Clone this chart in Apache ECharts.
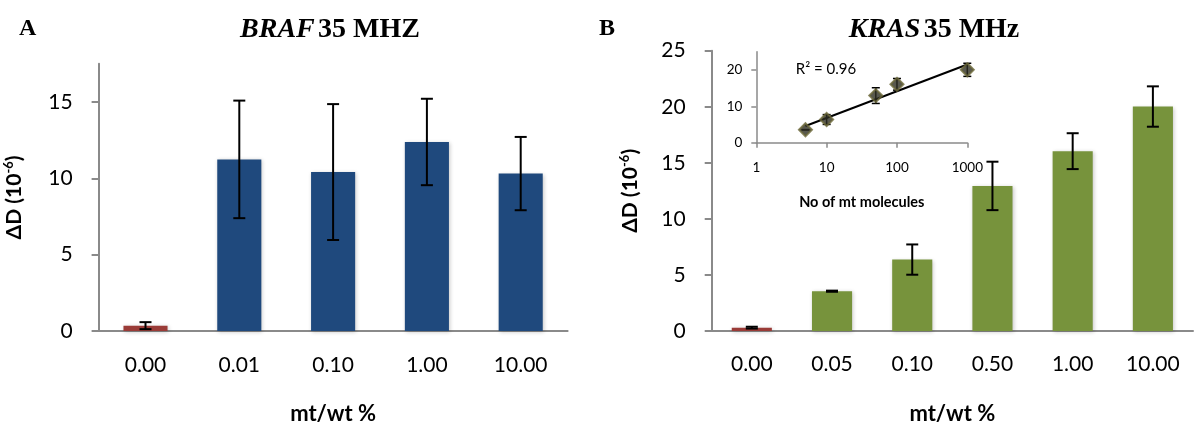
<!DOCTYPE html>
<html>
<head>
<meta charset="utf-8">
<script src="https://cdn.jsdelivr.net/npm/echarts@6/dist/echarts.min.js"></script>
<style>
  html, body { margin: 0; padding: 0; background: #fff; }
  #chart { width: 1194px; height: 430px; }
</style>
</head>
<body>
<div id="chart"></div>
<script>
// Panel A: BRAF, delta D (x10^-6) per mutant/wild-type ratio
const brafCategories = ['0.00', '0.01', '0.10', '1.00', '10.00'];
const brafValues = [0.35, 11.24, 10.41, 12.38, 10.31];
const brafErrors = [0.23, 3.85, 4.45, 2.83, 2.4];
const brafTicks = [0, 5, 10, 15];

// Panel B: KRAS, delta D (x10^-6) per mutant/wild-type ratio
const krasCategories = ['0.00', '0.05', '0.10', '0.50', '1.00', '10.00'];
const krasValues = [0.3, 3.55, 6.37, 12.94, 16.04, 20.02];
const krasErrors = [0.08, 0.05, 1.35, 2.16, 1.6, 1.8];
const krasTicks = [0, 5, 10, 15, 20, 25];

// Inset: number of mutant molecules for the non-zero KRAS dilutions
const molecules = [5, 10, 50, 100, 1000];
const insetValues = krasValues.slice(1);
const insetErrors = krasErrors.slice(1);
const insetYTicks = [0, 10, 20];
const insetXTicks = [1, 10, 100, 1000];

const CONTROL = '#9a3b37';
const BLUE = '#1f497d';
const GREEN = '#77933c';
const AXIS = '#8a8a8a';
const SANS = 'Lato';
const SERIF = 'Liberation Serif';

// Logarithmic least-squares fit y = a + b*ln(x), with its R^2
function logFit(xs, ys) {
  const lx = xs.map(Math.log);
  const n = xs.length;
  const mx = lx.reduce((s, v) => s + v, 0) / n;
  const my = ys.reduce((s, v) => s + v, 0) / n;
  let sxx = 0, sxy = 0;
  for (let i = 0; i < n; i++) { sxx += (lx[i] - mx) ** 2; sxy += (lx[i] - mx) * (ys[i] - my); }
  const b = sxy / sxx, a = my - b * mx;
  let ssr = 0, sst = 0;
  for (let i = 0; i < n; i++) { ssr += (ys[i] - (a + b * lx[i])) ** 2; sst += (ys[i] - my) ** 2; }
  return { a, b, r2: 1 - ssr / sst };
}
const fit = logFit(molecules, insetValues);
const trendX = [molecules[0], molecules[molecules.length - 1]];
const trendData = trendX.map(x => [x, fit.a + fit.b * Math.log(x)]);

// Error bars with caps, drawn from [x, y, err] triples
function errorBars(gridIdx, data, capHalf, width) {
  return {
    type: 'custom',
    xAxisIndex: gridIdx, yAxisIndex: gridIdx,
    z: 10,
    silent: true,
    data: data,
    renderItem(params, api) {
      const x = api.value(0), y = api.value(1), e = api.value(2);
      const hi = api.coord([x, y + e]);
      const lo = api.coord([x, y - e]);
      const style = { stroke: '#000', lineWidth: width };
      return {
        type: 'group',
        children: [
          { type: 'line', shape: { x1: hi[0], y1: hi[1], x2: lo[0], y2: lo[1] }, style },
          { type: 'line', shape: { x1: hi[0] - capHalf, y1: hi[1], x2: hi[0] + capHalf, y2: hi[1] }, style },
          { type: 'line', shape: { x1: lo[0] - capHalf, y1: lo[1], x2: lo[0] + capHalf, y2: lo[1] }, style }
        ]
      };
    }
  };
}

const yName = '{b|ΔD (10}{s|-6}{b|)}';
const yNameStyle = {
  rich: {
    b: { fontFamily: SANS, fontWeight: 'bold', fontSize: 21, color: '#000', lineHeight: 24 },
    s: { fontFamily: SANS, fontWeight: 'bold', fontSize: 13, color: '#000', verticalAlign: 'top', lineHeight: 24 }
  }
};

function categoryAxis(gridIdx, cats, margin) {
  return {
    type: 'category', gridIndex: gridIdx, data: cats,
    axisLine: { lineStyle: { color: AXIS, width: 2 } },
    axisTick: { length: 8, lineStyle: { color: AXIS, width: 2 } },
    axisLabel: { fontFamily: SANS, fontSize: 21, color: '#000', margin: margin },
    name: 'mt/wt %', nameLocation: 'middle', nameGap: 72,
    nameTextStyle: { fontFamily: SANS, fontWeight: 'bold', fontSize: 22, color: '#000' }
  };
}

function valueAxis(gridIdx, max, ticks, nameGap) {
  return {
    type: 'value', gridIndex: gridIdx, min: 0, max: max,
    axisLine: { show: true, lineStyle: { color: AXIS, width: 2 } },
    axisTick: { show: true, length: 7, customValues: ticks, lineStyle: { color: AXIS, width: 2 } },
    axisLabel: { fontFamily: SANS, fontSize: 21, color: '#000', margin: 26, customValues: ticks },
    splitLine: { show: false },
    name: yName, nameLocation: 'middle', nameGap: nameGap, nameRotate: 90,
    nameTextStyle: yNameStyle
  };
}

const barShadow = { shadowBlur: 4, shadowColor: 'rgba(0,0,0,0.22)', shadowOffsetX: 1, shadowOffsetY: 1 };

function titleText(x, gene, rest) {
  return {
    type: 'text', x: x, y: 30,
    style: {
      text: '{i|' + gene + '} {n|' + rest + '}', align: 'center', verticalAlign: 'middle',
      rich: {
        i: { fontFamily: SERIF, fontStyle: 'italic', fontWeight: 'bold', fontSize: 28, fill: '#000' },
        n: { fontFamily: SERIF, fontWeight: 'bold', fontSize: 28, fill: '#000' }
      }
    }
  };
}

const option = {
  animation: false,
  backgroundColor: '#fff',
  grid: [
    { left: 98.6, top: 63.8, width: 469, height: 281.2 },
    { left: 711.7, top: 50.7, width: 481.3, height: 295.6 },
    { left: 756.3, top: 51.7, width: 211, height: 91 }
  ],
  xAxis: [
    categoryAxis(0, brafCategories, 24),
    categoryAxis(1, krasCategories, 23),
    {
      type: 'log', logBase: 10, gridIndex: 2, min: 1, max: 1000,
      axisLine: { show: true, lineStyle: { color: AXIS, width: 1.5 } },
      axisTick: { show: true, length: 5, customValues: insetXTicks, lineStyle: { color: AXIS, width: 1.5 } },
      axisLabel: {
        fontFamily: SANS, fontSize: 13.5, color: '#000', margin: 18, customValues: insetXTicks,
        formatter: v => String(Math.round(v))
      },
      splitLine: { show: false },
      minorTick: { show: false },
      name: 'No of mt molecules', nameLocation: 'middle', nameGap: 52,
      nameTextStyle: { fontFamily: SANS, fontWeight: 'bold', fontSize: 14.5, color: '#000' }
    }
  ],
  yAxis: [
    valueAxis(0, 17.5, brafTicks, 72.6),
    valueAxis(1, 25, krasTicks, 69.7),
    {
      type: 'value', gridIndex: 2, min: 0, max: 25,
      axisLine: { show: true, lineStyle: { color: AXIS, width: 1.5 } },
      axisTick: { show: true, length: 5, customValues: insetYTicks, lineStyle: { color: AXIS, width: 1.5 } },
      axisLabel: { fontFamily: SANS, fontSize: 13.5, color: '#000', margin: 14, customValues: insetYTicks },
      splitLine: { show: false }
    }
  ],
  graphic: [
    { type: 'text', left: 19, top: 17, style: { text: 'A', font: 'bold 24px "Liberation Serif"', fill: '#000' } },
    { type: 'text', left: 599, top: 17, style: { text: 'B', font: 'bold 24px "Liberation Serif"', fill: '#000' } },
    titleText(330, 'BRAF', '35 MHZ'),
    titleText(934, 'KRAS', '35 MHz'),
    {
      type: 'text', x: 826, y: 69,
      style: {
        text: 'R² = ' + fit.r2.toFixed(2), align: 'center', verticalAlign: 'middle',
        font: '15px Lato', fill: '#000'
      }
    }
  ],
  series: [
    {
      type: 'bar', xAxisIndex: 0, yAxisIndex: 0, barWidth: '47%',
      data: brafValues.map((v, i) => ({ value: v, itemStyle: { color: i === 0 ? CONTROL : BLUE, ...barShadow } }))
    },
    errorBars(0, brafValues.map((v, i) => [i, v, brafErrors[i]]), 6, 2),
    {
      type: 'bar', xAxisIndex: 1, yAxisIndex: 1, barWidth: '50%',
      data: krasValues.map((v, i) => ({ value: v, itemStyle: { color: i === 0 ? CONTROL : GREEN, ...barShadow } }))
    },
    errorBars(1, krasValues.map((v, i) => [i, v, krasErrors[i]]), 6, 2),
    {
      type: 'line', xAxisIndex: 2, yAxisIndex: 2, data: trendData,
      symbol: 'none', lineStyle: { color: '#000', width: 2 }, z: 4
    },
    errorBars(2, molecules.map((m, i) => [m, insetValues[i], insetErrors[i]]), 4, 1.5),
    {
      type: 'scatter', xAxisIndex: 2, yAxisIndex: 2, z: 12,
      symbol: 'diamond', symbolSize: 13,
      itemStyle: { color: '#2e2e22', borderColor: '#6b6838', borderWidth: 2 },
      data: molecules.map((m, i) => [m, insetValues[i]])
    }
  ]
};

const chart = echarts.init(document.getElementById('chart'), null, { renderer: 'canvas' });
chart.setOption(option);
</script>
</body>
</html>
